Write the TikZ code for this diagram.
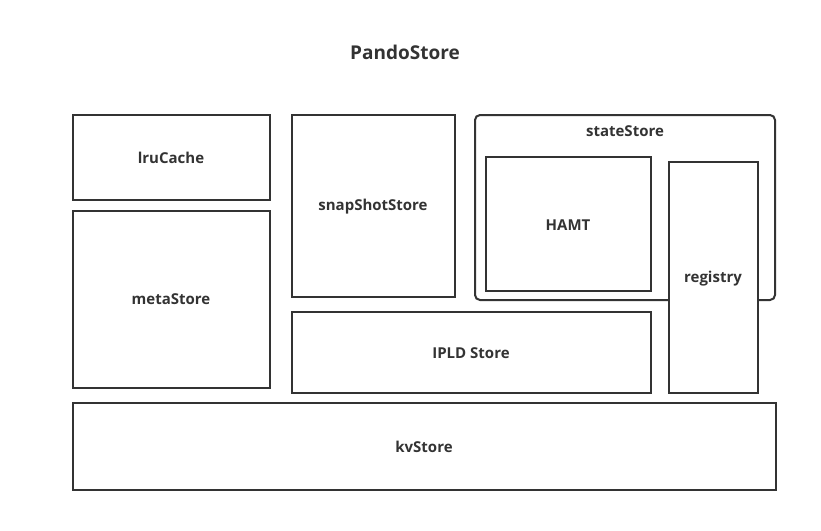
\documentclass[tikz,border=0pt]{standalone}
\usepackage{fontspec}
\setmainfont{Open Sans}
\definecolor{ink}{HTML}{333333}
\begin{document}
\begin{tikzpicture}[x=1pt,y=-1pt,
  lbl/.style={text=ink,font=\bfseries\fontsize{15}{17}\selectfont},
  rbox/.style={draw=ink,line width=2pt},
]
\useasboundingbox (0,0) rectangle (821,530);
\fill[white] (0,0) rectangle (821,530);
\node[lbl,font=\bfseries\fontsize{19}{22}\selectfont] (title) at (405,52) {PandoStore};
% stateStore container
\draw[rbox,rounded corners=5pt] (475,115) rectangle (775,300);
\node[lbl] (stateStore) at (625,131) {stateStore};
% HAMT
\draw[rbox,fill=white] (486,157) rectangle (651,291);
\node[lbl] (hamt) at (568,225) {HAMT};
% registry
\draw[rbox,fill=white] (669,162) rectangle (758,393);
\node[lbl] (registry) at (713,279) {registry};
% lruCache
\draw[rbox] (73,115) rectangle (270,200);
\node[lbl] (lru) at (171,158) {lruCache};
% metaStore
\draw[rbox] (73,211) rectangle (270,388);
\node[lbl] (meta) at (171,299) {metaStore};
% snapShotStore
\draw[rbox] (292,115) rectangle (455,297);
\node[lbl] (snap) at (373,207) {snapShotStore};
% IPLD Store
\draw[rbox] (292,312) rectangle (651,393);
\node[lbl] (ipld) at (471,353) {IPLD Store};
% kvStore
\draw[rbox] (73,403) rectangle (776,490);
\node[lbl] (kv) at (424,447) {kvStore};
\end{tikzpicture}
\end{document}
